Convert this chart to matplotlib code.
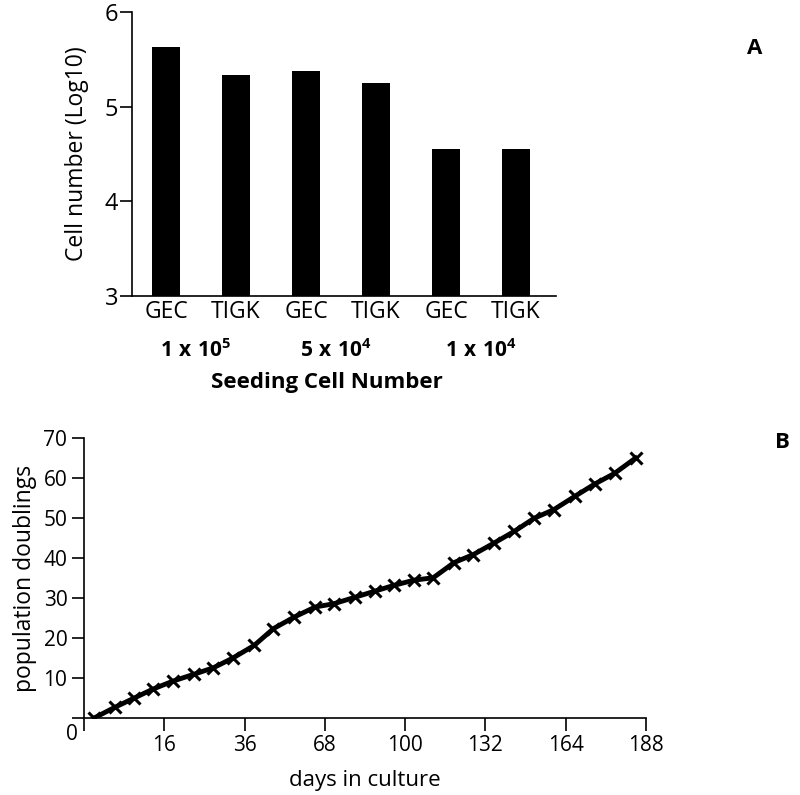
import matplotlib
matplotlib.use("Agg")
import matplotlib.pyplot as plt
import numpy as np

plt.rcParams['font.family'] = ['Open Sans', 'DejaVu Sans']
plt.rcParams['mathtext.fontset'] = 'custom'
plt.rcParams['mathtext.rm'] = 'Open Sans'
plt.rcParams['mathtext.bf'] = 'Open Sans:bold'

# --- panel A data ---
cell_types = ['GEC', 'TIGK', 'GEC', 'TIGK', 'GEC', 'TIGK']
log_cells = [5.63, 5.33, 5.38, 5.25, 4.55, 4.55]
seed_labels = [r'$\mathbf{1\ x\ 10^{5}}$', r'$\mathbf{5\ x\ 10^{4}}$', r'$\mathbf{1\ x\ 10^{4}}$']
seed_pos = [0.42, 2.43, 4.5]

# --- panel B data (x in axis tick units, ticks are evenly spaced) ---
day_ticks = ['', '16', '36', '68', '100', '132', '164', '188']
pos_x = [0.12, 0.38, 0.62, 0.86, 1.11, 1.37, 1.61, 1.85, 2.12, 2.36,
         2.62, 2.88, 3.11, 3.37, 3.63, 3.86, 4.11, 4.35, 4.61, 4.85,
         5.11, 5.36, 5.61, 5.85, 6.11, 6.36, 6.61, 6.87]
pop_doublings = [0.0, 2.7, 5.0, 7.3, 9.3, 11.0, 12.6, 15.0, 18.2, 22.4,
                 25.3, 27.8, 28.6, 30.2, 31.8, 33.2, 34.5, 35.1, 38.9, 40.9,
                 43.8, 46.7, 50.0, 52.1, 55.4, 58.5, 61.2, 65.0]

fig = plt.figure(figsize=(8, 7.95), dpi=100)

# panel A
ax1 = fig.add_axes([0.165, 0.6277, 0.53, 0.3573])
x = np.arange(len(cell_types))
ax1.bar(x, log_cells, width=0.4, color='black', bottom=0)
ax1.set_ylim(3, 6)
ax1.set_xlim(-0.486, 5.571)
ax1.set_yticks([3, 4, 5, 6])
ax1.set_xticks(x)
ax1.set_xticklabels(cell_types, fontsize=16.5)
ax1.tick_params(axis='x', length=0, pad=3)
ax1.tick_params(axis='y', length=9, width=1.2, labelsize=17, pad=1)
for s in ['top', 'right']:
    ax1.spines[s].set_visible(False)
for s in ['left', 'bottom']:
    ax1.spines[s].set_linewidth(1.2)
ax1.set_ylabel('Cell number (Log10)', fontsize=16.5, labelpad=11)
for lbl, p in zip(seed_labels, seed_pos):
    ax1.annotate(lbl, xy=(p, 0), xycoords=('data', 'axes fraction'),
                 xytext=(0, -39), textcoords='offset points',
                 ha='center', va='center', fontsize=15)
ax1.annotate('Seeding Cell Number', xy=(2.3, 0), xycoords=('data', 'axes fraction'),
             xytext=(0, -62), textcoords='offset points',
             ha='center', va='center', fontsize=16, fontweight='bold')
fig.text(755 / 800, 1 - 48 / 795, 'A', fontsize=16, fontweight='bold',
         ha='center', va='center')

# panel B
ax2 = fig.add_axes([0.105, 0.0965, 0.7025, 0.3525])
ax2.plot(pos_x, pop_doublings, color='black', lw=3.5, marker='x',
         markersize=9, markeredgewidth=2.2)
ax2.set_xlim(0, 7)
ax2.set_ylim(0, 70)
ax2.set_xticks(range(8))
ax2.set_xticklabels(day_ticks)
ax2.set_yticks(range(0, 80, 10))
ax2.set_yticklabels([''] + [str(v) for v in range(10, 80, 10)])
ax2.tick_params(length=9, width=1.2, labelsize=15, pad=3)
for s in ['top', 'right']:
    ax2.spines[s].set_visible(False)
for s in ['left', 'bottom']:
    ax2.spines[s].set_linewidth(1.2)
ax2.annotate('0', xy=(0, 0), xycoords='data', xytext=(-9, -12),
             textcoords='offset points', ha='center', va='center', fontsize=15)
ax2.set_xlabel('days in culture', fontsize=16, labelpad=10)
ax2.set_ylabel('population doublings', fontsize=16.5, labelpad=5)
fig.text(782 / 800, 1 - 443 / 795, 'B', fontsize=16, fontweight='bold',
         ha='center', va='center')

fig.savefig('out.png', dpi=100)
